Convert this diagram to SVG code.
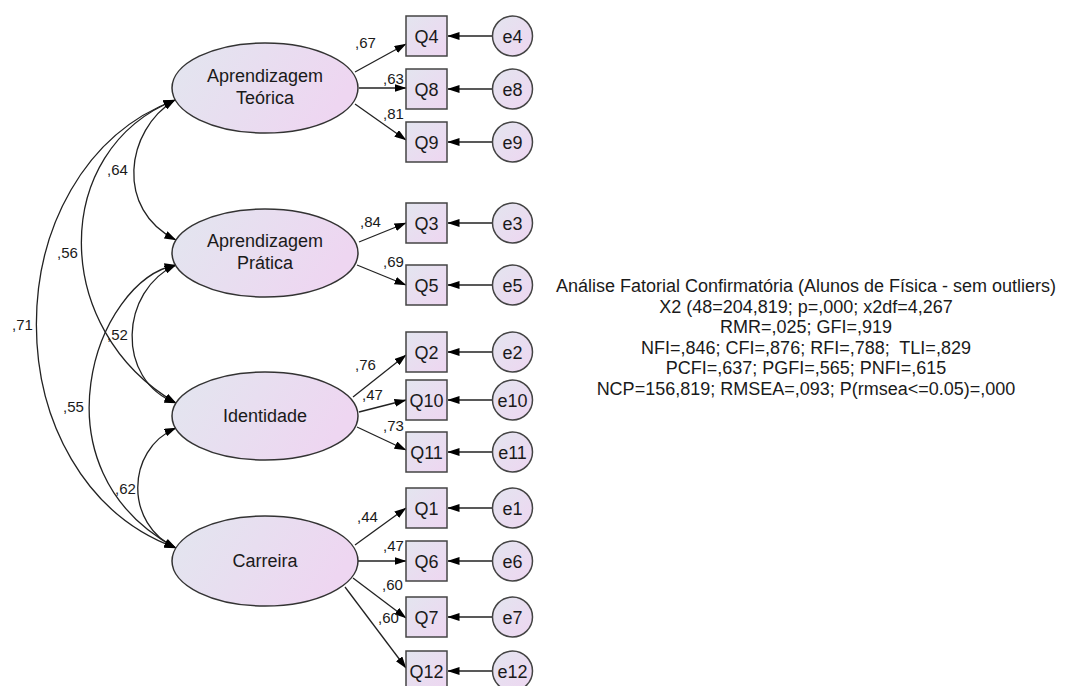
<svg xmlns="http://www.w3.org/2000/svg" width="1072" height="686" viewBox="0 0 1072 686">
<defs>
<linearGradient id="gE" x1="0" y1="0" x2="1" y2="0.3">
<stop offset="0" stop-color="#e2e6ef"/>
<stop offset="1" stop-color="#eed6f1"/>
</linearGradient>
<linearGradient id="gB" x1="0" y1="0" x2="1" y2="1">
<stop offset="0" stop-color="#e3e5ef"/>
<stop offset="1" stop-color="#eed6f1"/>
</linearGradient>
<marker id="ah" viewBox="0 0 12 8" refX="11.5" refY="4" markerWidth="12" markerHeight="8" markerUnits="userSpaceOnUse" orient="auto-start-reverse">
<path d="M0,0 L12,4 L0,8 z" fill="#000"/>
</marker>
</defs>
<style>
text{font-family:"Liberation Sans",Arial,sans-serif;fill:#1a1a1a}
.lat{fill:url(#gE);stroke:#333;stroke-width:1.5}
.box{fill:url(#gB);stroke:#444;stroke-width:1.5}
.err{fill:url(#gB);stroke:#444;stroke-width:1.5}
.nm{font-size:18px;text-anchor:middle}
.lb{font-size:15px}
.info{font-size:18px;text-anchor:middle}
.a{fill:none;stroke:#222;stroke-width:1.3;marker-end:url(#ah)}
.d{fill:none;stroke:#222;stroke-width:1.3;marker-start:url(#ah);marker-end:url(#ah)}
</style>
<rect width="1072" height="686" fill="#fff"/>

<g id="connectors">
<path class="d" d="M175,100 C125,130 115,210 176,240"/>
<path class="d" d="M175,100 C50,150 50,330 176,403"/>
<path class="d" d="M175,100 C-10,170 -10,480 176,548"/>
<path class="d" d="M176,265 C120,290 115,380 176,403"/>
<path class="d" d="M176,265 C95,280 30,470 176,548"/>
<path class="d" d="M176,428 C125,450 125,525 176,548"/>
<line class="a" x1="355" y1="72" x2="406" y2="44"/>
<line class="a" x1="359" y1="88" x2="406" y2="88"/>
<line class="a" x1="355" y1="104" x2="406" y2="140"/>
<line class="a" x1="359" y1="242" x2="406" y2="223"/>
<line class="a" x1="357" y1="265" x2="406" y2="285"/>
<line class="a" x1="353" y1="397" x2="406" y2="355"/>
<line class="a" x1="359" y1="412" x2="406" y2="400"/>
<line class="a" x1="357" y1="427" x2="406" y2="450"/>
<line class="a" x1="355" y1="545" x2="406" y2="508"/>
<line class="a" x1="358" y1="561" x2="406" y2="561"/>
<line class="a" x1="353" y1="578" x2="406" y2="618"/>
<line class="a" x1="345" y1="587" x2="406" y2="668"/>
<line class="a" x1="492" y1="36" x2="448" y2="36"/>
<line class="a" x1="492" y1="89" x2="448" y2="89"/>
<line class="a" x1="492" y1="142" x2="448" y2="142"/>
<line class="a" x1="492" y1="223" x2="448" y2="223"/>
<line class="a" x1="492" y1="285" x2="448" y2="285"/>
<line class="a" x1="492" y1="352" x2="448" y2="352"/>
<line class="a" x1="492" y1="400" x2="448" y2="400"/>
<line class="a" x1="492" y1="452" x2="448" y2="452"/>
<line class="a" x1="492" y1="508" x2="448" y2="508"/>
<line class="a" x1="492" y1="561" x2="448" y2="561"/>
<line class="a" x1="492" y1="617" x2="448" y2="617"/>
<line class="a" x1="492" y1="671" x2="448" y2="671"/>
<text class="lb" x="107" y="175">,64</text>
<text class="lb" x="57" y="258">,56</text>
<text class="lb" x="12" y="330">,71</text>
<text class="lb" x="107" y="340">,52</text>
<text class="lb" x="63" y="412">,55</text>
<text class="lb" x="115" y="494">,62</text>
<text class="lb" x="355" y="48">,67</text>
<text class="lb" x="383" y="84">,63</text>
<text class="lb" x="383" y="119">,81</text>
<text class="lb" x="360" y="227">,84</text>
<text class="lb" x="383" y="267">,69</text>
<text class="lb" x="355" y="370">,76</text>
<text class="lb" x="362" y="400">,47</text>
<text class="lb" x="383" y="431">,73</text>
<text class="lb" x="357" y="522">,44</text>
<text class="lb" x="383" y="551">,47</text>
<text class="lb" x="382" y="590">,60</text>
<text class="lb" x="378" y="623">,60</text>
</g>

<g id="AprendizagemTeorica"><ellipse class="lat" cx="265" cy="88" rx="93" ry="45"/><text class="nm" x="265" y="82">Aprendizagem</text><text class="nm" x="265" y="104">Teórica</text></g>
<g id="AprendizagemPratica"><ellipse class="lat" cx="265" cy="253" rx="93" ry="44"/><text class="nm" x="265" y="247">Aprendizagem</text><text class="nm" x="265" y="269">Prática</text></g>
<g id="Identidade"><ellipse class="lat" cx="265" cy="416" rx="93" ry="44"/><text class="nm" x="265" y="422">Identidade</text></g>
<g id="Carreira"><ellipse class="lat" cx="265" cy="561" rx="93" ry="45"/><text class="nm" x="265" y="567">Carreira</text></g>

<g id="Q4"><rect class="box" x="406" y="16" width="41" height="40"/><text class="nm" x="426.5" y="42.5">Q4</text></g>
<g id="Q8"><rect class="box" x="406" y="69" width="41" height="40"/><text class="nm" x="426.5" y="95.5">Q8</text></g>
<g id="Q9"><rect class="box" x="406" y="122" width="41" height="40"/><text class="nm" x="426.5" y="148.5">Q9</text></g>
<g id="Q3"><rect class="box" x="406" y="203" width="41" height="40"/><text class="nm" x="426.5" y="229.5">Q3</text></g>
<g id="Q5"><rect class="box" x="406" y="265" width="41" height="40"/><text class="nm" x="426.5" y="291.5">Q5</text></g>
<g id="Q2"><rect class="box" x="406" y="332" width="41" height="40"/><text class="nm" x="426.5" y="358.5">Q2</text></g>
<g id="Q10"><rect class="box" x="406" y="380" width="41" height="40"/><text class="nm" x="426.5" y="406.5">Q10</text></g>
<g id="Q11"><rect class="box" x="406" y="432" width="41" height="40"/><text class="nm" x="426.5" y="458.5">Q11</text></g>
<g id="Q1"><rect class="box" x="406" y="488" width="41" height="40"/><text class="nm" x="426.5" y="514.5">Q1</text></g>
<g id="Q6"><rect class="box" x="406" y="541" width="41" height="40"/><text class="nm" x="426.5" y="567.5">Q6</text></g>
<g id="Q7"><rect class="box" x="406" y="597" width="41" height="40"/><text class="nm" x="426.5" y="623.5">Q7</text></g>
<g id="Q12"><rect class="box" x="406" y="651" width="41" height="40"/><text class="nm" x="426.5" y="677.5">Q12</text></g>

<g id="e4"><circle class="err" cx="512.5" cy="36" r="20"/><text class="nm" x="512.5" y="42.5">e4</text></g>
<g id="e8"><circle class="err" cx="512.5" cy="89" r="20"/><text class="nm" x="512.5" y="95.5">e8</text></g>
<g id="e9"><circle class="err" cx="512.5" cy="142" r="20"/><text class="nm" x="512.5" y="148.5">e9</text></g>
<g id="e3"><circle class="err" cx="512.5" cy="223" r="20"/><text class="nm" x="512.5" y="229.5">e3</text></g>
<g id="e5"><circle class="err" cx="512.5" cy="285" r="20"/><text class="nm" x="512.5" y="291.5">e5</text></g>
<g id="e2"><circle class="err" cx="512.5" cy="352" r="20"/><text class="nm" x="512.5" y="358.5">e2</text></g>
<g id="e10"><circle class="err" cx="512.5" cy="400" r="20"/><text class="nm" x="512.5" y="406.5">e10</text></g>
<g id="e11"><circle class="err" cx="512.5" cy="452" r="20"/><text class="nm" x="512.5" y="458.5">e11</text></g>
<g id="e1"><circle class="err" cx="512.5" cy="508" r="20"/><text class="nm" x="512.5" y="514.5">e1</text></g>
<g id="e6"><circle class="err" cx="512.5" cy="561" r="20"/><text class="nm" x="512.5" y="567.5">e6</text></g>
<g id="e7"><circle class="err" cx="512.5" cy="617" r="20"/><text class="nm" x="512.5" y="623.5">e7</text></g>
<g id="e12"><circle class="err" cx="512.5" cy="671" r="20"/><text class="nm" x="512.5" y="677.5">e12</text></g>

<g id="info">
<text class="info" x="806" y="292">Análise Fatorial Confirmatória (Alunos de Física - sem outliers)</text>
<text class="info" x="806" y="313">X2 (48=204,819; p=,000; x2df=4,267</text>
<text class="info" x="806" y="333">RMR=,025; GFI=,919</text>
<text class="info" x="806" y="354">NFI=,846; CFI=,876; RFI=,788;&#160; TLI=,829</text>
<text class="info" x="806" y="374">PCFI=,637; PGFI=,565; PNFI=,615</text>
<text class="info" x="806" y="395">NCP=156,819; RMSEA=,093; P(rmsea&lt;=0.05)=,000</text>
</g>
</svg>
